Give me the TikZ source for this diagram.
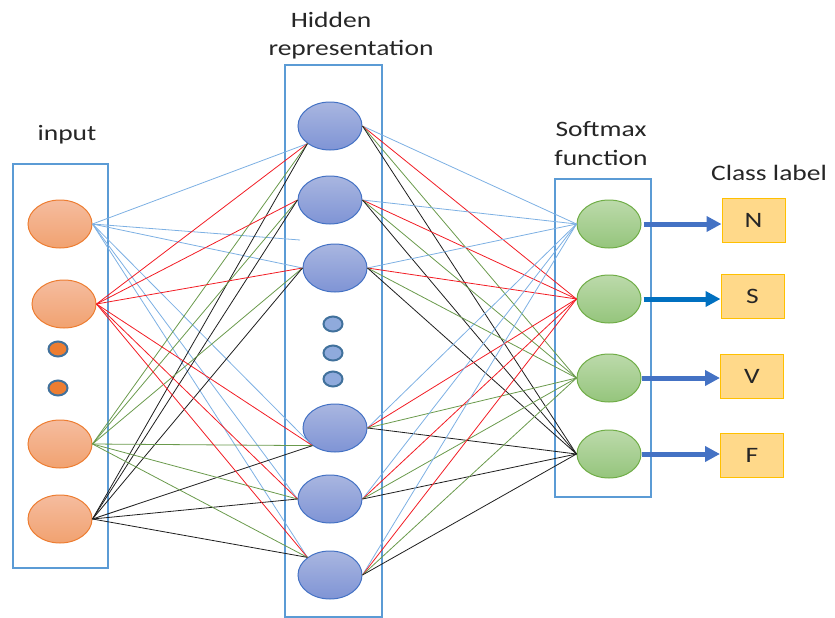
\documentclass[tikz,border=0pt]{standalone}
\usepackage{fontspec}
\usepackage{graphicx}
\setmainfont{Carlito}
\usetikzlibrary{shapes.geometric,arrows.meta}

\definecolor{frameblue}{HTML}{5B9BD5}
\definecolor{txtgray}{HTML}{262626}
\definecolor{orgedge}{HTML}{ED7D31}
\definecolor{orgtop}{HTML}{F5BC9F}
\definecolor{orgbot}{HTML}{F1A270}
\definecolor{bluedge}{HTML}{4472C4}
\definecolor{blutop}{HTML}{A9B6E0}
\definecolor{blubot}{HTML}{7F94D5}
\definecolor{grnedge}{HTML}{70AD47}
\definecolor{grntop}{HTML}{BCDAAB}
\definecolor{grnbot}{HTML}{95C57C}
\definecolor{dotedge}{HTML}{41719C}
\definecolor{dotblue}{HTML}{8FAADC}
\definecolor{clsfill}{HTML}{FFD98A}
\definecolor{clsedge}{HTML}{FFC000}
\definecolor{wblue}{HTML}{7DB0E3}
\definecolor{wred}{HTML}{F21C24}
\definecolor{wgreen}{HTML}{6A9A4C}
\definecolor{wblack}{HTML}{1E1E1E}
\definecolor{arrblue}{HTML}{4472C4}
\definecolor{arrblue2}{HTML}{0070C0}

\newcommand{\widetxt}[1]{\scalebox{1.25}[1]{#1}}

\tikzset{
  layerbox/.style={draw=frameblue, line width=2.6pt},
  lbl/.style={font=\fontsize{22}{24}\selectfont, text=txtgray, inner sep=0pt, anchor=base},
  neuron/.style={ellipse, minimum width=64pt, minimum height=48pt, inner sep=0pt, line width=1pt},
  inneuron/.style={neuron, draw=orgedge, top color=orgtop, bottom color=orgbot},
  hidneuron/.style={neuron, draw=bluedge, top color=blutop, bottom color=blubot},
  outneuron/.style={neuron, draw=grnedge, top color=grntop, bottom color=grnbot},
  smalldot/.style={ellipse, minimum width=19pt, minimum height=15pt, inner sep=0pt, draw=dotedge, line width=2pt},
  classbox/.style={rectangle, draw=clsedge, fill=clsfill, line width=1pt, minimum width=63pt, minimum height=44pt, font=\fontsize{22}{24}\selectfont, text=txtgray},
  wire/.style={line width=0.8pt},
  outarrow/.style={line width=5pt, -{Triangle[length=15pt,width=15pt]}}
}

\begin{document}
\begin{tikzpicture}[x=1pt,y=-1pt]
\useasboundingbox (0,0) rectangle (835,618);

% layer frames
\draw[layerbox] (13,164) rectangle (108,568);
\draw[layerbox] (285,65) rectangle (382,617);
\draw[layerbox] (555,179) rectangle (651,497);

% titles
\node[lbl] (tIn) at (67,140) {\widetxt{input}};
\node[lbl] (tHid1) at (331,28) {\widetxt{Hidden}};
\node[lbl] (tHid2) at (351,56) {\widetxt{representation}};
\node[lbl] (tSm1) at (601,136) {\widetxt{Softmax}};
\node[lbl] (tSm2) at (601,165) {\widetxt{function}};
\node[lbl] (tCls) at (769,180) {\widetxt{Class label}};

% input layer
\node[inneuron] (I1) at (60,224) {};
\node[inneuron] (I2) at (64,304) {};
\node[inneuron] (I3) at (60,444) {};
\node[inneuron] (I4) at (60,519) {};
\node[smalldot, fill=orgedge] (id1) at (58,349) {};
\node[smalldot, fill=orgedge] (id2) at (58,388) {};

% hidden layer
\node[hidneuron] (H1) at (330,126) {};
\node[hidneuron] (H2) at (330,200) {};
\node[hidneuron] (H3) at (335,268) {};
\node[hidneuron] (H4) at (335,428) {};
\node[hidneuron] (H5) at (330,499) {};
\node[hidneuron] (H6) at (330,575) {};
\node[smalldot, fill=dotblue] (hd1) at (333,324) {};
\node[smalldot, fill=dotblue] (hd2) at (333,353) {};
\node[smalldot, fill=dotblue] (hd3) at (333,379) {};

% softmax layer
\node[outneuron] (S1) at (609,224) {};
\node[outneuron] (S2) at (609,299) {};
\node[outneuron] (S3) at (609,378) {};
\node[outneuron] (S4) at (609,454) {};

% class labels
\node[classbox] (cN) at (753.5,220.5) {\widetxt{N}};
\node[classbox] (cS) at (752.5,296.5) {\widetxt{S}};
\node[classbox] (cV) at (752,376) {\widetxt{V}};
\node[classbox] (cF) at (752,455.5) {\widetxt{F}};

% input -> hidden weights, coloured by source neuron
\coordinate (loose) at (300,240);
\foreach \t in {H1.218,loose,H3.west,H4.218,H5.west,H6.142}
  \draw[wire, wblue] (I1.east) -- (\t);
\foreach \t in {H1.218,H2.west,H3.west,H4.218,H5.west,H6.142}{
  \draw[wire, wred] (I2.east) -- (\t);
  \draw[wire, wgreen] (I3.east) -- (\t);
  \draw[wire, wblack] (I4.east) -- (\t);
}

% hidden -> softmax weights, coloured by target neuron
\foreach \h in {H1,H2,H3,H4,H5,H6}{
  \draw[wire, wblue] (\h.east) -- (S1.west);
  \draw[wire, wred] (\h.east) -- (S2.west);
  \draw[wire, wgreen] (\h.east) -- (S3.west);
  \draw[wire, wblack] (\h.east) -- (S4.west);
}

% softmax -> class label, kept horizontal
\draw[outarrow, arrblue, shorten <=2pt] (S1.east) -- (S1.east -| cN.west);
\draw[outarrow, arrblue2, shorten <=2pt] (S2.east) -- (S2.east -| cS.west);
\draw[outarrow, arrblue] (S3.east) -- (S3.east -| cV.west);
\draw[outarrow, arrblue] (S4.east) -- (S4.east -| cF.west);
\end{tikzpicture}
\end{document}
